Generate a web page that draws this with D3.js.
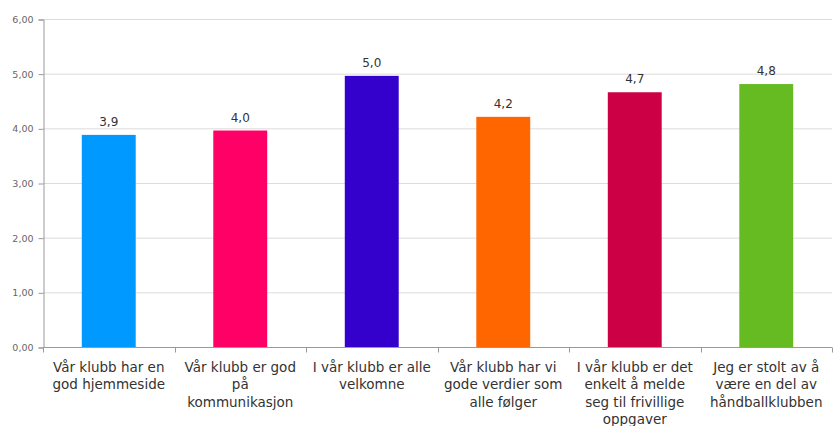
<!DOCTYPE html>
<html>
<head>
<meta charset="utf-8">
<script src="https://cdn.jsdelivr.net/npm/d3@7"></script>
<style>
  body { margin: 0; background: #fff; }
  svg { display: block; font-family: "DejaVu Sans", Verdana, sans-serif; }
</style>
</head>
<body>
<svg id="chart" width="835" height="426"></svg>
<script>
// data
const categories = [
    "Vår klubb har en\ngod hjemmeside",
    "Vår klubb er god\npå\nkommunikasjon",
    "I vår klubb er alle\nvelkomne",
    "Vår klubb har vi\ngode verdier som\nalle følger",
    "I vår klubb er det\nenkelt å melde\nseg til frivillige\noppgaver",
    "Jeg er stolt av å\nvære en del av\nhåndballklubben"
];
const values = [3.88, 3.96, 4.96, 4.21, 4.66, 4.81];
const colors = ["#0099ff", "#ff0066", "#3300cc", "#ff6600", "#cc0044", "#66bb22"];
const yTicks = [0, 1, 2, 3, 4, 5, 6];

const size = {
    width: 835,
    height: 426,
    margin: { top: 19, right: 3, bottom: 79, left: 43 }
};
const svg = d3.select("#chart");

const fmt = (v, n) => v.toFixed(n).replace(".", ",");

const xScale = d3.scaleBand()
    .domain(d3.range(categories.length))
    .range([size.margin.left, size.width - size.margin.right])
    .paddingInner(0.59)
    .paddingOuter(0.295);

const yScale = d3.scaleLinear()
    .domain([0, 6])
    .range([size.height - size.margin.bottom, size.margin.top]);

// gridlines
svg.append("g")
    .selectAll("line")
    .data(yTicks)
    .join("line")
    .attr("x1", size.margin.left)
    .attr("x2", size.width - size.margin.right)
    .attr("y1", d => yScale(d) + 0.5)
    .attr("y2", d => yScale(d) + 0.5)
    .attr("stroke", "#dcdcdc");

// bars
svg.append("g")
    .selectAll("rect")
    .data(values)
    .join("rect")
    .attr("x", (d, i) => xScale(i))
    .attr("y", d => yScale(d))
    .attr("width", xScale.bandwidth())
    .attr("height", d => yScale(0) - yScale(d))
    .attr("fill", (d, i) => colors[i]);

// value labels
svg.append("g")
    .selectAll("text")
    .data(values)
    .join("text")
    .attr("x", (d, i) => xScale(i) + xScale.bandwidth() / 2)
    .attr("y", d => yScale(d) - 9)
    .attr("text-anchor", "middle")
    .attr("font-size", 12)
    .attr("fill", "#333")
    .text(d => fmt(d, 1));

// y axis
const yAxis = svg.append("g")
    .attr("transform", `translate(${size.margin.left + 0.5}, 0.5)`)
    .call(d3.axisLeft(yScale).tickValues(yTicks).tickSize(5).tickPadding(5).tickFormat(d => fmt(d, 2)));
yAxis.select(".domain").attr("stroke", "#999");
yAxis.selectAll(".tick line").attr("stroke", "#999");
yAxis.selectAll(".tick text")
    .attr("font-size", 9.5)
    .attr("fill", "#666")
    .attr("font-family", "DejaVu Sans, sans-serif");

// x axis line and category separators
const xBase = yScale(0) + 0.5;
svg.append("line")
    .attr("x1", size.margin.left)
    .attr("x2", size.width - size.margin.right)
    .attr("y1", xBase)
    .attr("y2", xBase)
    .attr("stroke", "#999");

const step = xScale.step();
svg.append("g")
    .selectAll("line")
    .data(d3.range(categories.length + 1))
    .join("line")
    .attr("x1", i => Math.round(size.margin.left + i * step) + 0.5)
    .attr("x2", i => Math.round(size.margin.left + i * step) + 0.5)
    .attr("y1", xBase)
    .attr("y2", xBase + 5)
    .attr("stroke", "#999");

// category labels
svg.append("g")
    .selectAll("text")
    .data(categories)
    .join("text")
    .attr("x", (d, i) => xScale(i) + xScale.bandwidth() / 2)
    .attr("y", xBase + 24)
    .attr("text-anchor", "middle")
    .attr("font-size", 13.5)
    .attr("fill", "#333")
    .each(function(d) {
        const t = d3.select(this);
        d.split("\n").forEach((line, k) => {
            t.append("tspan")
                .attr("x", t.attr("x"))
                .attr("dy", k === 0 ? 0 : 17.5)
                .text(line);
        });
    });
</script>
</body>
</html>
